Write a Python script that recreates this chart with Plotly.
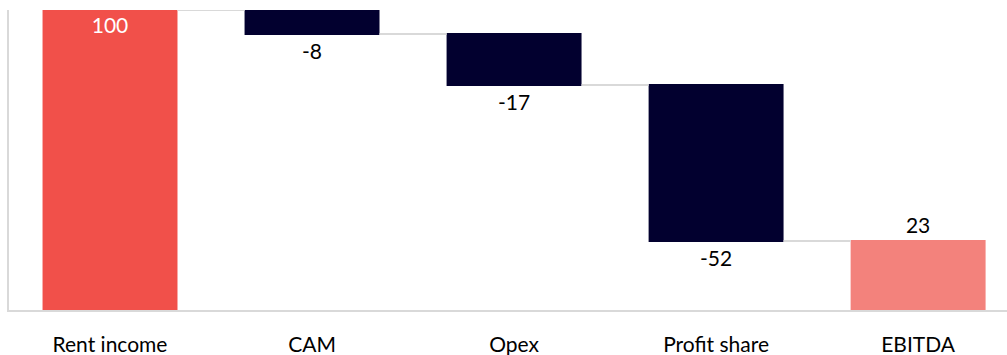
import plotly.graph_objects as go

categories = ["Rent income", "CAM", "Opex", "Profit share", "EBITDA"]
values = [100, -8, -17, -52, 23]
measures = ["relative", "relative", "relative", "relative", "total"]
labels = ["100", "-8", "-17", "-52", "23"]
positions = ["inside", "outside", "outside", "outside", "outside"]

FONT = "Lato"
SIZE = 21

fig = go.Figure(go.Waterfall(
    x=categories,
    y=values,
    measure=measures,
    text=labels,
    textposition=positions,
    insidetextanchor="end",
    insidetextfont=dict(color="white", size=SIZE, family=FONT),
    outsidetextfont=dict(color="black", size=SIZE, family=FONT),
    increasing=dict(marker=dict(color="#F1504A")),
    decreasing=dict(marker=dict(color="#02002F")),
    totals=dict(marker=dict(color="#F3827C")),
    connector=dict(line=dict(color="#D9D9D9", width=2)),
    width=0.668,
    cliponaxis=False,
))

fig.update_layout(
    width=1007, height=355,
    margin=dict(l=9, r=0, t=10, b=45),
    plot_bgcolor="white", paper_bgcolor="white",
    showlegend=False,
    font=dict(family=FONT, size=SIZE, color="black"),
)
fig.update_xaxes(range=[-0.5, 4.44], showline=True, linecolor="#D9D9D9", linewidth=2,
                 ticks="outside", ticklen=15, tickcolor="rgba(0,0,0,0)", showgrid=False,
                 tickfont=dict(size=SIZE, family=FONT))
fig.update_yaxes(range=[0, 100], showline=True, linecolor="#D9D9D9", linewidth=2,
                 showticklabels=False, showgrid=False, zeroline=False)

fig.write_html("out.html")
